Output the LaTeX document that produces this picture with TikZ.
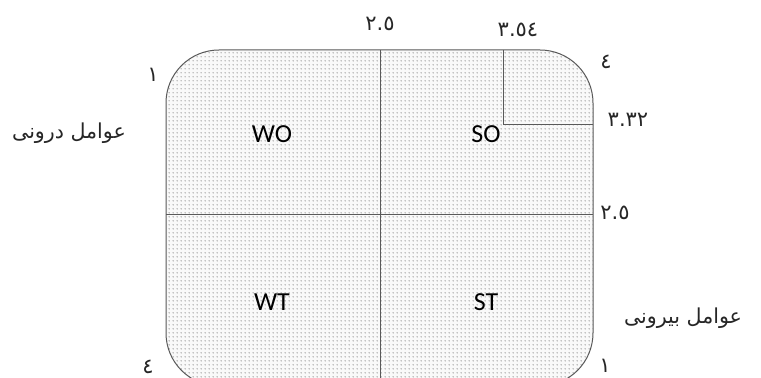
\documentclass[tikz,border=0pt]{standalone}
\usepackage{fontspec}
\setmainfont{Carlito}
\newfontfamily\arabicfont[Script=Arabic]{DejaVu Sans}
\TeXXeTstate=1
\usetikzlibrary{patterns}
\pgfdeclarepatternformonly{finedots}{\pgfpoint{-0.2pt}{-0.2pt}}{\pgfpoint{2.2pt}{2.2pt}}{\pgfpoint{2pt}{2pt}}{%
  \pgfpathcircle{\pgfpoint{0.6pt}{0.6pt}}{0.38pt}\pgfusepath{fill}}
\tikzset{
  frame/.style={draw=black!65, line width=0.5pt},
  quad/.style={font=\fontsize{13}{15}\selectfont, text=black},
  num/.style={font=\arabicfont\fontsize{10.5}{12}\selectfont, text=black!85, inner sep=0pt},
  axis/.style={font=\arabicfont\fontsize{10.3}{12}\selectfont, text=black!85, inner sep=0pt},
}
\begin{document}
\begin{tikzpicture}[x=0.5pt,y=-0.5pt]
\useasboundingbox (0,0) rectangle (761,378);
\begin{scope}
\clip (0,0) rectangle (761,378);
\fill[gray!5, rounded corners=26.5pt] (166,50) rectangle (593,386);
\fill[pattern=finedots, pattern color=gray!60, rounded corners=26.5pt] (166,50) rectangle (593,386);
\draw[frame, rounded corners=26.5pt] (166,50) rectangle (593,386);
\coordinate (vt) at (380,50);
\coordinate (vb) at (380,386);
\coordinate (hl) at (166,215);
\coordinate (hr) at (593,215);
\coordinate (st) at (503,50);
\coordinate (sc) at (503,125);
\coordinate (sr) at (593,125);
\draw[frame] (vt) -- (vb);
\draw[frame] (hl) -- (hr);
\draw[frame] (st) -- (sc) -- (sr);
\end{scope}
\node[quad] (wo) at (272,134) {WO};
\node[quad] (so) at (486,134) {SO};
\node[quad] (wt) at (272,302) {WT};
\node[quad] (stq) at (486,302) {ST};
\node[num] (n1a) at (153,75) {١};
\node[num] (n25a) at (380,24) {٢.٥};
\node[num] (n354) at (518,30) {٣.٥٤};
\node[num] (n4a) at (606,62) {٤};
\node[num] (n332) at (628,120) {٣.٣٢};
\node[num] (n25b) at (615,213) {٢.٥};
\node[num] (n1b) at (605,366) {١};
\node[num] (n4b) at (148,367) {٤};
\node[axis] (inner) at (69,133) {\beginR عوامل درونی\endR};
\node[axis] (outer) at (683,318) {\beginR عوامل بیرونی\endR};
\end{tikzpicture}
\end{document}
